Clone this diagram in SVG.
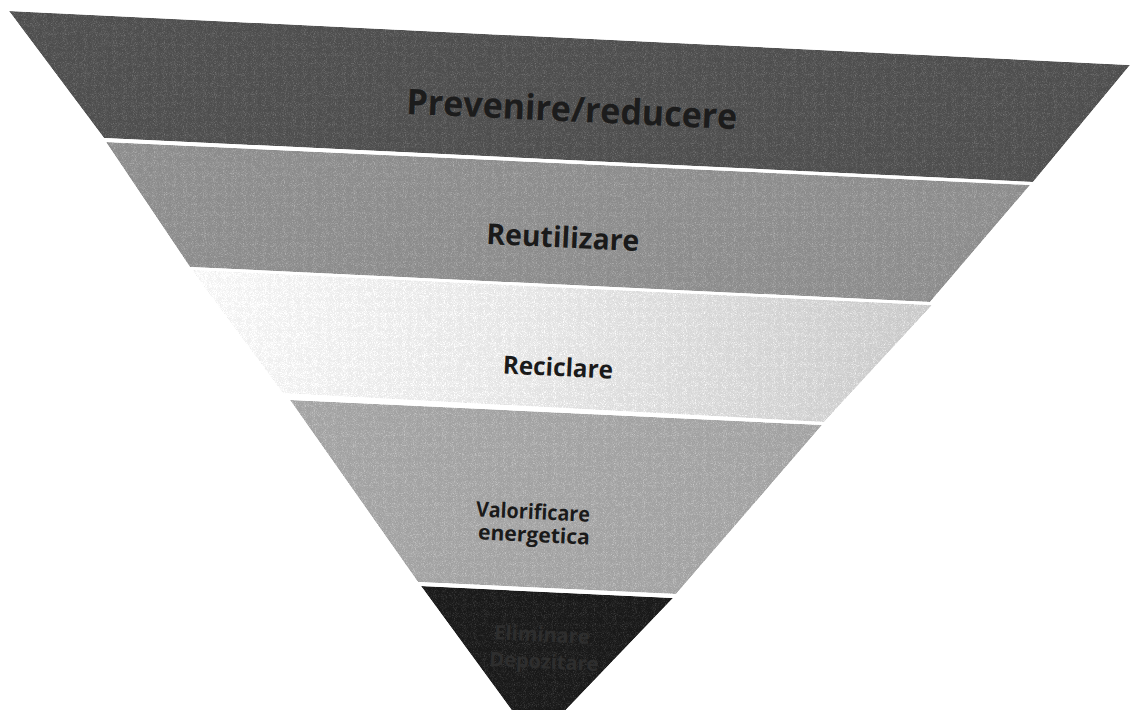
<svg xmlns="http://www.w3.org/2000/svg" width="1130" height="710" viewBox="0 0 1130 710">
  <style>
    .lbl { font-family: "Open Sans", "Liberation Sans", sans-serif; font-weight: bold; text-anchor: middle; dominant-baseline: central; }
  </style>
  <defs>
    <filter id="grain" x="0" y="0" width="1130" height="750" filterUnits="userSpaceOnUse" color-interpolation-filters="sRGB">
      <feTurbulence type="fractalNoise" baseFrequency="0.9" numOctaves="1" seed="3" result="t"/>
      <feColorMatrix in="t" type="matrix" values="0 0 0 0 0.5  0 0 0 0 0.5  0 0 0 0 0.5  1 0 0 0 -0.5" result="g"/>
      <feColorMatrix in="t" type="matrix" values="0 0 0 0 0  0 0 0 0 0  0 0 0 0 0  -1 0 0 0 0.5" result="d"/>
      <feComposite in="SourceGraphic" in2="g" operator="arithmetic" k1="0" k2="1" k3="0.5" k4="0" result="m1"/>
      <feComposite in="m1" in2="d" operator="arithmetic" k1="0" k2="1" k3="-0.5" k4="0" result="m2"/>
      <feComposite in="m2" in2="SourceGraphic" operator="in"/>
    </filter>
    <linearGradient id="fade3" x1="190" y1="0" x2="930" y2="0" gradientUnits="userSpaceOnUse">
      <stop offset="0" stop-color="#f2f2f2"/>
      <stop offset="0.45" stop-color="#e2e2e2"/>
      <stop offset="1" stop-color="#c6c6c6"/>
    </linearGradient>
  </defs>
  <rect width="1130" height="710" fill="#ffffff"/>

  <g id="band-prevenire">
    <polygon points="9,11 1130,65 1033,182 104,138" fill="#4c4c4c" filter="url(#grain)"/>
    <text class="lbl" x="572" y="108" font-size="35" fill="#1c1c1c" textLength="331" lengthAdjust="spacingAndGlyphs" transform="rotate(2.7 572 108)">Prevenire/reducere</text>
  </g>

  <g id="band-reutilizare">
    <polygon points="106,142 1030,185 930,302 190,267" fill="#8a8a8a" filter="url(#grain)"/>
    <text class="lbl" x="563" y="236" font-size="29" fill="#1a1a1a" textLength="153" lengthAdjust="spacingAndGlyphs" transform="rotate(2.7 563 236)">Reutilizare</text>
  </g>

  <g id="band-reciclare">
    <polygon points="192,270 932,305 824,422 283,393" fill="url(#fade3)" filter="url(#grain)"/>
    <text class="lbl" x="558" y="366" font-size="25" fill="#1a1a1a" textLength="110" lengthAdjust="spacingAndGlyphs" transform="rotate(2.7 558 366)">Reciclare</text>
  </g>

  <g id="band-valorificare">
    <polygon points="290,400 822,425 676,594 418,582" fill="#a0a0a0" filter="url(#grain)"/>
    <text class="lbl" x="533" y="511" font-size="21" fill="#1a1a1a" textLength="114" lengthAdjust="spacingAndGlyphs" transform="rotate(2.7 533 511)">Valorificare</text>
    <text class="lbl" x="534" y="534" font-size="21" fill="#1a1a1a" textLength="112" lengthAdjust="spacingAndGlyphs" transform="rotate(2.7 534 534)">energetica</text>
  </g>

  <g id="band-eliminare">
    <polygon points="421,586 673,598 535,742" fill="#171717" filter="url(#grain)"/>
    <text class="lbl" x="542" y="634" font-size="20" fill="#2e2e2e" transform="rotate(2.7 542 634)">Eliminare</text>
    <text class="lbl" x="544" y="661" font-size="20" fill="#2e2e2e" transform="rotate(2.7 544 661)">Depozitare</text>
  </g>
</svg>
